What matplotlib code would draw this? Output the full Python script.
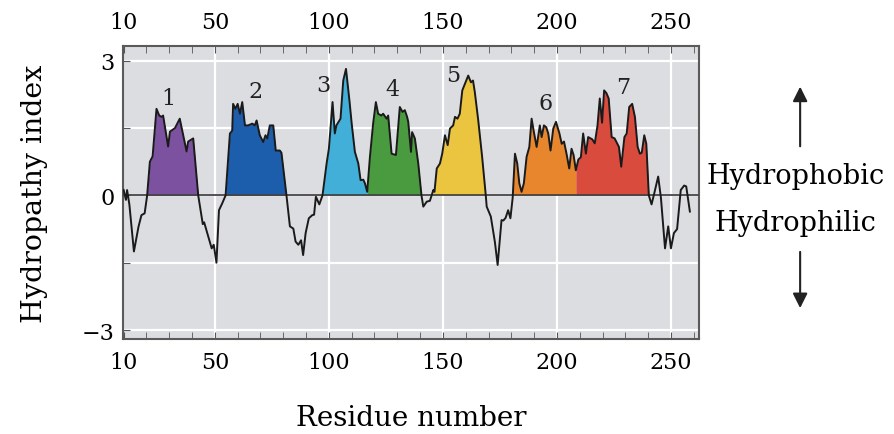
import numpy as np
import matplotlib.pyplot as plt

plt.rcParams['font.family'] = ['DejaVu Serif']

# hydropathy profile (residue, index)
residue = [10, 11, 11.5, 12.5, 14.5, 16.5, 17.8, 19.2, 20.3, 21.5, 22.7, 24.4, 25.6, 26.6, 27.3,
           29.5, 30.3, 32.5, 34.6, 37.6, 38.3, 40.5, 42.7, 44.2, 44.7, 45.3, 48.6, 49.5, 50.7,
           51.2, 51.8, 53.2, 54.7, 56.6, 57.6, 58, 59, 60, 61, 62, 63.2, 64.6, 66.4, 67.5, 68.3,
           69.7, 71.2, 72.2, 73, 74.1, 75.6, 76.7, 78.5, 79.2, 81.4, 82.9, 84.4, 85.4, 86.6,
           87.8, 88.7, 89.8, 91.2, 92.7, 93.5, 94.3, 95.8, 97.2, 99, 100, 101.6, 102.6, 103.3,
           105.1, 106.3, 107.5, 109, 110, 111.4, 112.9, 113.9, 115.1, 115.8, 116.8, 118, 119.4,
           120.6, 121.6, 123, 123.8, 125.3, 126, 127.5, 129.4, 131.1, 132.3, 133.3, 134.3, 134.8,
           136, 136.5, 137.7, 139.2, 140.6, 141.4, 142.9, 144.3, 145.8, 146.3, 147.3, 148.7,
           149.7, 150.9, 152.1, 153.1, 154.5, 155.3, 156.4, 157.4, 158.5, 159.7, 161.1, 162.3,
           163.2, 164, 165.5, 167.2, 168.8, 169.2, 171, 172.8, 174, 175.7, 176.5, 177.5, 178.6,
           179.6, 180.6, 181.6, 182.6, 183.5, 184.5, 185.5, 186.7, 187.9, 188.9, 189.9, 191.1,
           192.5, 193.3, 194.3, 195.3, 196.2, 197.2, 198.4, 199.6, 201.1, 202.1, 203.1, 204.2,
           205.4, 206.4, 207.3, 208.3, 209.4, 210.5, 211.5, 212.7, 213.7, 215.5, 216.6, 217.8,
           218.8, 219.8, 220.7, 221.7, 222.7, 224, 225.3, 227.2, 228.2, 229.6, 230.6, 231.7,
           233, 234.2, 235.4, 236.4, 237.2, 238.3, 239.2, 240.3, 241.5, 242.7, 244.4, 245.6,
           247.4, 248.8, 250, 251.3, 252.7, 254.3, 255.8, 256.7, 258.3]
hydropathy = [0.12, -0.1, 0.12, -0.2, -1.25, -0.7, -0.44, -0.4, 0.0, 0.75, 0.87, 1.93, 1.78, 1.75, 1.78,
              1.09, 1.42, 1.5, 1.71, 0.98, 1.2, 1.27, 0.0, -0.47, -0.64, -0.6, -1.18, -1.1, -1.5,
              -0.99, -0.33, -0.18, 0.0, 1.38, 1.44, 2.04, 1.93, 2.04, 1.82, 2.08, 1.56, 1.56, 1.6, 1.56, 1.67,
              1.34, 1.19, 1.34, 1.27, 1.56, 1.56, 1.0, 1.0, 0.95, 0.0, -0.69, -0.74, -1.03, -1.1,
              -1.0, -1.33, -0.84, -0.51, -0.44, -0.43, -0.03, -0.2, 0.0, 0.71, 1.04, 2.08, 1.38, 1.56,
              1.71, 2.56, 2.82, 2.12, 1.6, 0.97, 0.71, 0.34, 0.35, 0.27, 0.08, 0.86, 1.6,
              2.08, 1.82, 1.78, 1.82, 1.71, 1.78, 0.93, 0.9, 1.97, 1.86, 1.9, 1.75, 1.64,
              0.97, 1.41, 1.27, 0.71, 0.0, -0.25, -0.14, -0.12, 0.12, 0.08, 0.6, 0.71,
              0.93, 1.34, 1.12, 1.49, 1.56, 1.75, 1.71, 1.82, 2.34, 2.49, 2.67, 2.52,
              2.56, 2.3, 1.67, 0.86, 0.0, -0.25, -0.47, -1.04, -1.55, -0.55, -0.56, -0.5, -0.33,
              -0.51, -0.05, 0.93, 0.71, 0.27, 0.08, 0.27, 0.86, 1.08, 1.71, 1.41, 1.08,
              1.56, 1.3, 1.56, 1.52, 1.38, 1.0, 1.49, 1.64, 1.38, 1.15, 1.2, 0.93,
              0.6, 1.04, 0.9, 0.56, 0.8, 0.85, 1.38, 0.93, 1.3, 1.25, 1.16, 1.56,
              2.16, 1.62, 2.34, 2.28, 2.16, 1.3, 1.27, 1.08, 0.64, 1.3, 1.38, 1.97,
              2.04, 1.75, 1.08, 0.93, 0.95, 1.34, 1.15, 0.0, -0.2, 0.05, 0.42, -0.05,
              -1.18, -0.69, -1.18, -0.84, -0.75, 0.12, 0.22, 0.2, -0.36]

# transmembrane segments
seg_names = ['1', '2', '3', '4', '5', '6', '7']
seg_start = [20.3, 54.7, 97.2, 116.8, 145.8, 180.6, 208.3]
seg_end = [42.7, 81.4, 116.8, 140.6, 168.8, 208.3, 240.3]
label_x = [29.6, 67.6, 97.4, 127.7, 154.4, 194.8, 229.0]
label_y = [2.16, 2.33, 2.47, 2.38, 2.69, 2.07, 2.42]
seg_colors = ['#7b51a0', '#1c5eab', '#42afd9', '#4a9b3f', '#ebc540', '#e8862d', '#d84b3d']

x = np.array(residue)
y = np.array(hydropathy)

fig = plt.figure(figsize=(8.95, 4.35), dpi=100)
ax = fig.add_axes([0.1374, 0.2184, 0.6436, 0.6736])
ax.set_facecolor('#dcdde0')

for a, b, c in zip(seg_start, seg_end, seg_colors):
    m = (x >= a) & (x <= b)
    ax.fill_between(x, np.maximum(y, 0), 0, where=m, color=c, lw=0)

ax.axhline(0, color='#444444', lw=1.3, zorder=3)
ax.plot(x, y, color='#1a1a1a', lw=1.4, zorder=4)

for name, lx, ly in zip(seg_names, label_x, label_y):
    ax.text(lx, ly, name, ha='center', va='center', fontsize=16, color='#222222')

ax.set_xlim(9.7, 262.3)
ax.set_ylim(-3.2, 3.33)

xt = [10, 50, 100, 150, 200, 250]
ax.set_xticks(xt)
ax.set_xticks(np.arange(20, 261, 10), minor=True)
ax.set_yticks([-3, -1.5, 0, 1.5, 3])
ax.set_yticklabels(['\u22123', '', '0', '', '3'])
ax.grid(True, color='white', lw=1.6)
ax.get_xgridlines()[0].set_visible(False)
ax.set_axisbelow(True)

ax.tick_params(axis='x', which='both', direction='in', top=True, labeltop=True,
               color='#555555', labelsize=16, pad=9)
ax.tick_params(axis='x', which='major', length=5)
ax.tick_params(axis='x', which='minor', length=5)
ax.tick_params(axis='y', direction='in', length=5, color='#555555', labelsize=16, pad=6)
for s in ax.spines.values():
    s.set_color('#5a5a5a')
    s.set_linewidth(1.5)

ax.set_xlabel('Residue number', fontsize=20, labelpad=22)
ax.set_ylabel('Hydropathy index', fontsize=20.5, labelpad=24)

# side annotation
fig.text(0.889, 0.594, 'Hydrophobic', ha='center', va='center', fontsize=19.5)
fig.text(0.889, 0.487, 'Hydrophilic', ha='center', va='center', fontsize=19.5)
ax.annotate('', xy=(0.894, 0.805), xytext=(0.894, 0.655), xycoords='figure fraction',
            arrowprops=dict(arrowstyle='-|>', color='#222222', lw=1.5, mutation_scale=22))
ax.annotate('', xy=(0.894, 0.283), xytext=(0.894, 0.425), xycoords='figure fraction',
            arrowprops=dict(arrowstyle='-|>', color='#222222', lw=1.5, mutation_scale=22))

fig.savefig('out.png', dpi=100)
